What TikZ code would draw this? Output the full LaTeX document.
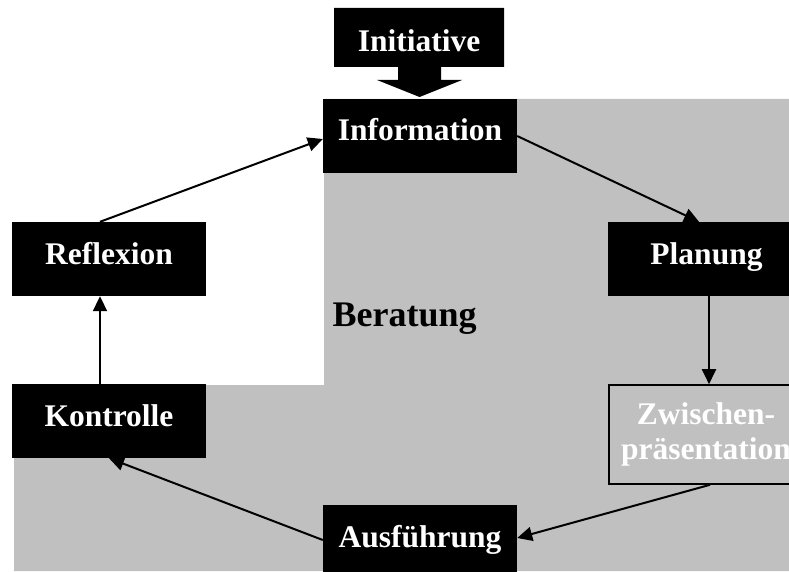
\documentclass[tikz,border=0pt]{standalone}
\usepackage{fontspec}
\setmainfont{Liberation Serif}
\usetikzlibrary{arrows.meta}
\definecolor{zone}{RGB}{192,192,192}
\tikzset{
  blackbox/.style={rectangle, fill=black, text=white, inner sep=0pt,
    minimum width=194pt, minimum height=74pt,
    font=\fontsize{31.5}{36}\selectfont\bfseries,
    text height=20pt, text depth=10pt},
  greybox/.style={rectangle, fill=zone, draw=black, line width=1.6pt,
    text=white, inner sep=0pt, align=center,
    minimum width=194pt, minimum height=99pt,
    font=\fontsize{31.5}{35}\selectfont\bfseries},
  flow/.style={line width=2pt, -{Triangle[length=15pt,width=14pt]}},
}
\begin{document}
\begin{tikzpicture}[x=1pt,y=-1pt]
  \clip (0,0) rectangle (789,572);
  \useasboundingbox (0,0) rectangle (789,572);
  \fill[white] (0,0) rectangle (789,572);

  % counselling zone behind the cycle
  \fill[zone] (324,99) -- (789,99) -- (789,571) -- (14,571) -- (14,385)
    -- (324,385) -- cycle;
  \node[font=\fontsize{36}{40}\selectfont\bfseries, anchor=base west]
    (ber) at (329,326) {Beratung};

  % the initiative as a block arrow pointing into the cycle
  \fill[black] (334,8) -- (504,8) -- (504,67) -- (441,67) -- (441,80)
    -- (462,80) -- (419.5,97) -- (377,80) -- (398,80) -- (398,67)
    -- (334,67) -- cycle;
  \node[text=white, font=\fontsize{31.5}{36}\selectfont\bfseries,
    anchor=base] (init) at (419,52) {Initiative};

  % stations of the cycle
  \node[blackbox] (info) at (420,136) {Information};
  \node[blackbox, minimum width=197pt] (plan) at (706.5,259) {Planung};
  \node[greybox] (zw) at (706,434.5) {Zwischen-\\präsentation};
  \node[blackbox] (aus) at (420,542) {Ausführung};
  \node[blackbox] (kon) at (109,421) {Kontrolle};
  \node[blackbox] (refl) at (109,259) {Reflexion};

  % connectors
  \draw[flow] (info.east) -- ([xshift=-7.5pt]plan.north);
  \draw[flow] ([xshift=2.5pt]plan.south) -- ([xshift=3pt]zw.north);
  \draw[flow] ([xshift=4pt]zw.south) -- ([yshift=4pt]aus.east);
  \draw[flow] ([yshift=2pt]aus.west) -- (kon.south);
  \draw[flow] ([xshift=-9pt]kon.north) -- ([xshift=-9pt]refl.south);
  \draw[flow] ([xshift=-9pt]refl.north) -- ([yshift=-3pt]info.west);
\end{tikzpicture}
\end{document}
